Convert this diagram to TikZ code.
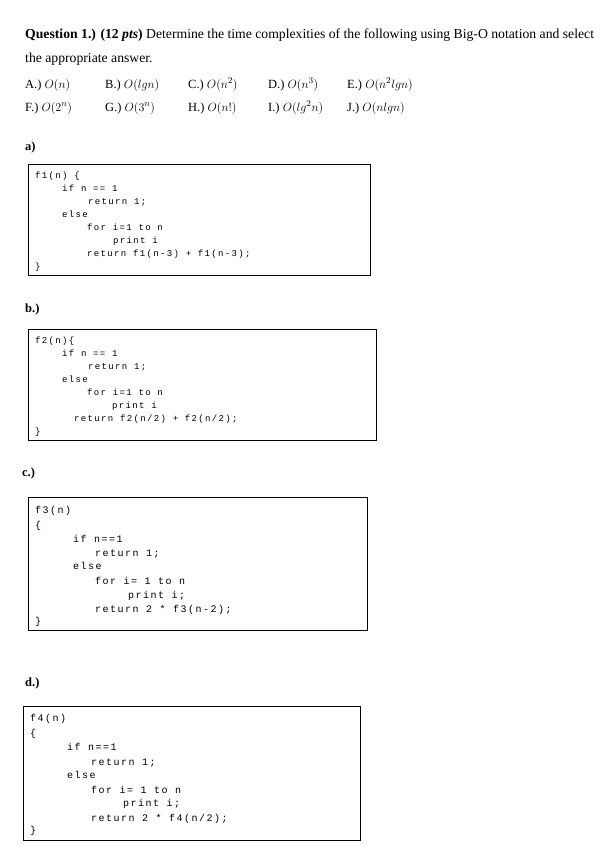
\documentclass[tikz,border=0pt]{standalone}
\usepackage{fontspec}
\setmainfont{Liberation Serif}
\setmonofont{Liberation Mono}[LetterSpace=15]
\begin{document}
\begin{tikzpicture}[x=1pt,y=-1pt,
  t/.style={anchor=base west,inner sep=0pt,font=\fontsize{12.5}{14}\selectfont},
  th/.style={anchor=base west,inner sep=0pt,font=\fontsize{13.7}{15}\selectfont},
  ca/.style={anchor=base west,inner sep=0pt,font=\ttfamily\fontsize{9}{10}\selectfont},
  cc/.style={anchor=base west,inner sep=0pt,font=\ttfamily\fontsize{10}{12}\selectfont},
  box/.style={draw,line width=0.8pt}]
\useasboundingbox (0,0) rectangle (605,855);
\node[th] (h1) at (25,38) {\textbf{Question 1.) (12 \textit{pts})} Determine the time complexities of the following using Big-O notation and select};
\node[th] (h2) at (25,62) {the appropriate answer.};
\node[t] (oa) at (25,88) {A.) $O(n)$};
\node[t] (ob) at (105,88) {B.) $O(lgn)$};
\node[t] (oc) at (188,88) {C.) $O(n^2)$};
\node[t] (od) at (268,88) {D.) $O(n^3)$};
\node[t] (oe) at (347,88) {E.) $O(n^2lgn)$};
\node[t] (of) at (25,111) {F.) $O(2^n)$};
\node[t] (og) at (105,111) {G.) $O(3^n)$};
\node[t] (oh) at (188,111) {H.) $O(n!)$};
\node[t] (oi) at (268,111) {I.) $O(lg^2n)$};
\node[t] (oj) at (347,111) {J.) $O(nlgn)$};
% a
\node[t] (la) at (25,150) {\textbf{a)}};
\draw[box] (28,164) rectangle (370,275);
\node[ca] at (35,178) {f1(n) \{};
\node[ca] at (62,191) {if n == 1};
\node[ca] at (88,204) {return 1;};
\node[ca] at (62,217) {else};
\node[ca] at (87,230) {for i=1 to n};
\node[ca] at (113,243) {print i};
\node[ca] at (87,256) {return f1(n-3) + f1(n-3);};
\node[ca] at (35,269) {\}};
% b
\node[t] (lb) at (25,312) {\textbf{b.)}};
\draw[box] (28,329) rectangle (376,440);
\node[ca] at (35,343) {f2(n)\{};
\node[ca] at (62,356) {if n == 1};
\node[ca] at (88,369) {return 1;};
\node[ca] at (62,382) {else};
\node[ca] at (87,395) {for i=1 to n};
\node[ca] at (112,408) {print i};
\node[ca] at (74,421) {return f2(n/2) + f2(n/2);};
\node[ca] at (35,434) {\}};
% c
\node[t] (lc) at (22,476) {\textbf{c.)}};
\draw[box] (28,497) rectangle (367,630);
\node[cc] at (35,513) {f3(n)};
\node[cc] at (35,528) {\{};
\node[cc] at (73,542) {if n==1};
\node[cc] at (95,556) {return 1;};
\node[cc] at (73,569) {else};
\node[cc] at (95,584) {for i= 1 to n};
\node[cc] at (128,598) {print i;};
\node[cc] at (95,612) {return 2 * f3(n-2);};
\node[cc] at (35,624) {\}};
% d
\node[t] (ld) at (25,686) {\textbf{d.)}};
\draw[box] (23,706) rectangle (360,840);
\node[cc] at (30,721) {f4(n)};
\node[cc] at (30,736) {\{};
\node[cc] at (67,750) {if n==1};
\node[cc] at (91,765) {return 1;};
\node[cc] at (67,778) {else};
\node[cc] at (91,793) {for i= 1 to n};
\node[cc] at (123,806) {print i;};
\node[cc] at (91,821) {return 2 * f4(n/2);};
\node[cc] at (30,833) {\}};
\end{tikzpicture}
\end{document}
